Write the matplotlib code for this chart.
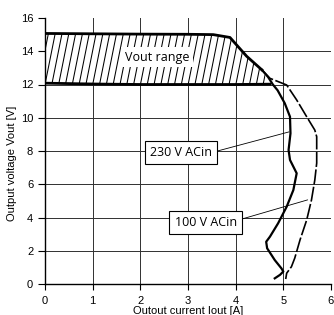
import numpy as np
import matplotlib
matplotlib.use("Agg")
import matplotlib.pyplot as plt
from matplotlib.patches import Polygon

# ---- data ----
upper_x = [0.0, 1.0, 2.0, 3.0, 3.53, 3.88, 4.23, 4.55]
upper_y = [15.07, 15.05, 15.03, 15.02, 15.0, 14.83, 13.70, 12.88]

lower_x = [0.0, 1.0, 2.0, 3.0, 4.0, 4.72]
lower_y = [12.08, 12.03, 12.0, 12.0, 12.0, 12.02]

v230_x = [4.55, 4.68, 4.78, 4.88, 5.03, 5.14, 5.15, 5.11, 5.14, 5.28, 5.21, 5.07,
          4.89, 4.72, 4.64, 4.66, 4.82, 4.96, 5.00, 4.93, 4.82]
v230_y = [12.88, 12.45, 12.0, 11.65, 10.87, 10.06, 9.06, 8.06, 7.46, 6.66, 5.65, 4.65,
          3.65, 2.85, 2.54, 2.15, 1.44, 0.94, 0.75, 0.55, 0.34]

v100_x = [4.55, 4.72, 5.07, 5.28, 5.49, 5.66, 5.70, 5.70, 5.66, 5.59, 5.49, 5.35,
          5.24, 5.17, 5.07, 5.05]
v100_y = [12.88, 12.37, 11.97, 11.07, 10.06, 9.26, 8.86, 7.27, 6.25, 5.05, 3.85, 2.65,
          1.56, 1.04, 0.65, 0.30]

xticks = [0, 1, 2, 3, 4, 5, 6]
yticks = [0, 2, 4, 6, 8, 10, 12, 14, 16]

label_range = "Vout range"
label_230 = "230 V ACin"
label_100 = "100 V ACin"
xlabel = "Outout current Iout [A]"
ylabel = "Output voltage Vout [V]"

# ---- figure ----
plt.rcParams['font.family'] = ['Liberation Sans', 'DejaVu Sans']
fig = plt.figure(figsize=(3.34, 3.15), dpi=100)
ax = fig.add_axes([45/334, 31/315, 286/334, 266/315])
ax.set_xlim(0, 6)
ax.set_ylim(0, 16)
ax.set_xticks(xticks)
ax.set_yticks(yticks)
ax.tick_params(axis='both', labelsize=8, colors='black', width=0.8)
ax.tick_params(axis='x', direction='out', length=4, pad=4.5)
ax.tick_params(axis='y', direction='out', length=5, pad=3.5)
for s in ['top', 'right']:
    ax.spines[s].set_visible(False)
for s in ['left', 'bottom']:
    ax.spines[s].set_linewidth(1.0)
ax.grid(True, color='#303030', linewidth=0.7, zorder=0)
ax.set_axisbelow(True)
fig.canvas.draw()
ax.yaxis.get_gridlines()[-1].set_visible(False)

ax.set_xlabel(xlabel, fontsize=8, va='top')
ax.xaxis.set_label_coords(0.5, -0.083)
ax.set_ylabel(ylabel, fontsize=8)
ax.yaxis.set_label_coords(-0.097, 0.455)

# ---- hatched range region ----
poly_pts = list(zip(upper_x, upper_y)) + [(4.72, 12.02)] + list(zip(lower_x[::-1], lower_y[::-1]))
poly = Polygon(poly_pts, closed=True, facecolor='white', edgecolor='none', zorder=2)
ax.add_patch(poly)
for x0 in np.arange(-0.3, 5.0, 0.143):
    ln, = ax.plot([x0, x0 + 0.0698 * 3.4], [11.8, 15.2], color='black', lw=0.75, zorder=3,
                  solid_capstyle='butt')
    ln.set_clip_path(poly)

# ---- curves ----
ax.plot(upper_x, upper_y, color='black', lw=2.0, zorder=5, solid_joinstyle='round')
ax.plot(lower_x, lower_y, color='black', lw=2.0, zorder=5)
ax.plot(v230_x, v230_y, color='black', lw=1.6, zorder=5, solid_joinstyle='round')
ax.plot(v100_x, v100_y, color='black', lw=1.2, zorder=5, linestyle=(0, (9, 1.5)))

# ---- labels ----
ax.text(2.35, 13.65, label_range, fontsize=9, family=['Open Sans', 'DejaVu Sans'],
        ha='center', va='center', zorder=4,
        bbox=dict(facecolor='white', edgecolor='none', pad=2.5))

ax.annotate(label_230, xy=(5.12, 9.15), xytext=(2.85, 7.91), fontsize=9,
            family=['Open Sans', 'DejaVu Sans'], ha='center', va='center', zorder=6,
            bbox=dict(boxstyle='square,pad=0.42', facecolor='white', edgecolor='black', lw=0.8),
            arrowprops=dict(arrowstyle='-', color='black', lw=0.6, relpos=(1, 0.5),
                            shrinkA=0, shrinkB=0))
ax.annotate(label_100, xy=(5.51, 5.06), xytext=(3.37, 3.70), fontsize=9,
            family=['Open Sans', 'DejaVu Sans'], ha='center', va='center', zorder=6,
            bbox=dict(boxstyle='square,pad=0.42', facecolor='white', edgecolor='black', lw=0.8),
            arrowprops=dict(arrowstyle='-', color='black', lw=0.6, relpos=(1, 0.65),
                            shrinkA=0, shrinkB=0))

fig.savefig('out.png', dpi=100)
